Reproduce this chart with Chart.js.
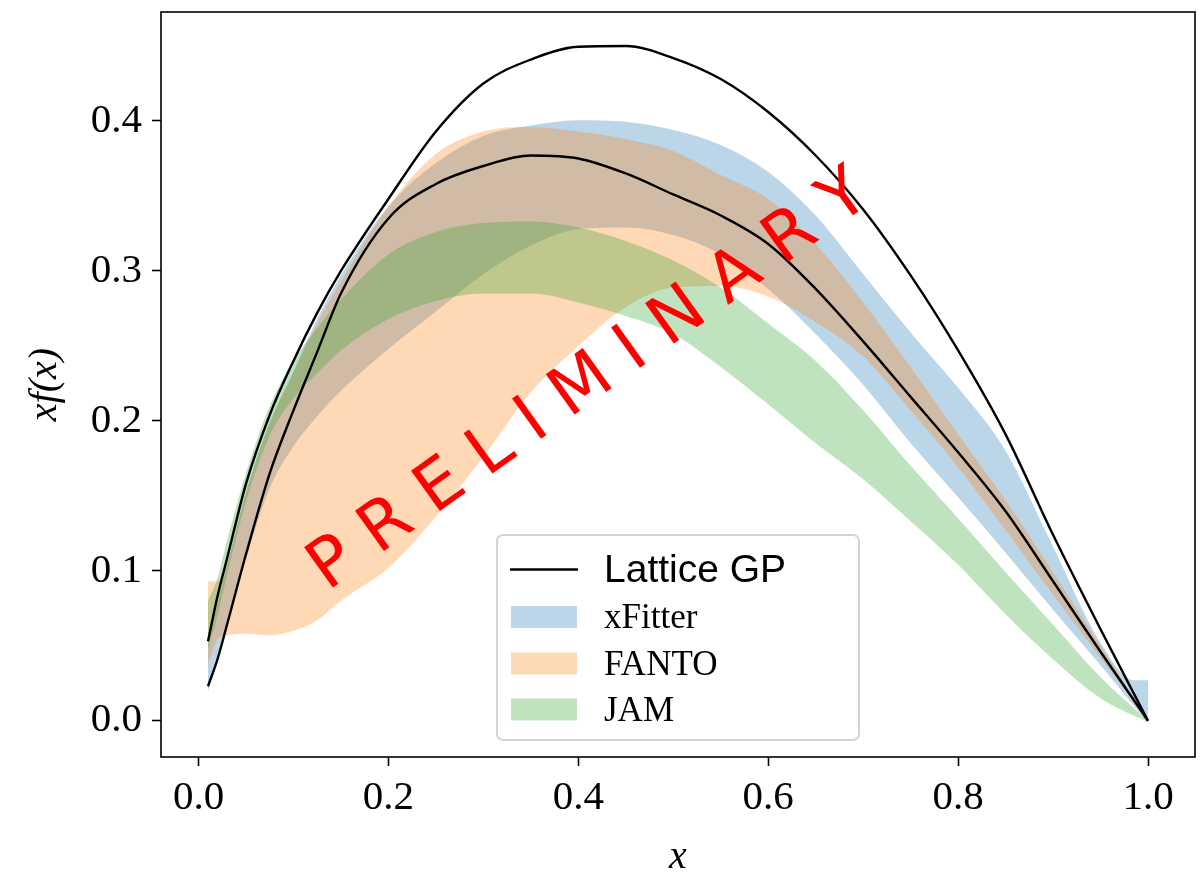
<!DOCTYPE html>
<html><head><meta charset="utf-8">
<script src="https://cdn.jsdelivr.net/npm/chart.js@4.4.0/dist/chart.umd.min.js"></script>
<style>html,body{margin:0;padding:0;background:#fff;}</style>
</head><body>
<canvas id="c" width="1204" height="879"></canvas>
<script>
// ---- data ----
const xs = [0.01, 0.02, 0.03, 0.05, 0.075, 0.1, 0.125, 0.15, 0.2, 0.25, 0.3, 0.35, 0.4, 0.45, 0.5, 0.55, 0.6, 0.65, 0.7, 0.75, 0.8, 0.85, 0.9, 0.95, 1.0];
const xsBlue = [0.01, 0.02, 0.03, 0.05, 0.075, 0.1, 0.125, 0.15, 0.2, 0.25, 0.3, 0.35, 0.4, 0.45, 0.5, 0.55, 0.6, 0.65, 0.7, 0.75, 0.8, 0.85, 0.9, 0.95, 0.985, 1.0];

const latticeUpper = [0.053, 0.083, 0.108, 0.158, 0.204, 0.240, 0.272, 0.300, 0.348, 0.393, 0.425, 0.441, 0.4495, 0.450, 0.442, 0.428, 0.406, 0.377, 0.341, 0.297, 0.247, 0.191, 0.124, 0.061, 0.0];
const latticeLower = [0.023, 0.041, 0.064, 0.111, 0.165, 0.207, 0.246, 0.285, 0.335, 0.358, 0.370, 0.377, 0.375, 0.365, 0.351, 0.337, 0.318, 0.288, 0.253, 0.216, 0.179, 0.1397, 0.093, 0.046, 0.0];

const xFitterHigh = [0.050, 0.078, 0.103, 0.152, 0.199, 0.233, 0.268, 0.297, 0.343, 0.372, 0.390, 0.397, 0.4005, 0.3995, 0.394, 0.384, 0.366, 0.337, 0.298, 0.259, 0.222, 0.180, 0.116, 0.052, 0.027, 0.027];
const xFitterLow  = [0.020, 0.040, 0.062, 0.108, 0.155, 0.183, 0.203, 0.220, 0.248, 0.273, 0.298, 0.317, 0.328, 0.329, 0.324, 0.311, 0.288, 0.258, 0.224, 0.185, 0.149, 0.112, 0.074, 0.037, 0.010, -0.001];

const fantoHigh = [0.093, 0.093, 0.105, 0.152, 0.198, 0.232, 0.265, 0.293, 0.343, 0.378, 0.393, 0.396, 0.393, 0.388, 0.380, 0.364, 0.348, 0.318, 0.279, 0.236, 0.191, 0.147, 0.099, 0.050, 0.0];
const fantoLow  = [0.038, 0.054, 0.057, 0.058, 0.057, 0.060, 0.067, 0.080, 0.102, 0.136, 0.176, 0.219, 0.250, 0.276, 0.289, 0.290, 0.283, 0.266, 0.243, 0.207, 0.169, 0.127, 0.084, 0.042, 0.0];

const jamHigh = [0.080, 0.095, 0.120, 0.165, 0.210, 0.240, 0.262, 0.281, 0.311, 0.326, 0.332, 0.333, 0.329, 0.320, 0.307, 0.289, 0.265, 0.240, 0.207, 0.170, 0.135, 0.099, 0.064, 0.029, 0.0];
const jamLow  = [0.048, 0.070, 0.097, 0.146, 0.190, 0.215, 0.232, 0.247, 0.268, 0.280, 0.285, 0.285, 0.279, 0.270, 0.258, 0.236, 0.211, 0.185, 0.161, 0.133, 0.104, 0.071, 0.041, 0.015, -0.001];

const xTicks = [0.0, 0.2, 0.4, 0.6, 0.8, 1.0];
const yTicks = [0.0, 0.1, 0.2, 0.3, 0.4];
const legendLabels = ['Lattice GP', 'xFitter', 'FANTO', 'JAM'];

// ---- styling ----
const BLUE = 'rgba(31,119,180,0.3)';
const ORANGE = 'rgba(255,127,14,0.3)';
const GREEN = 'rgba(44,160,44,0.3)';

const pts = (xv, yv) => xv.map((x, i) => ({x: x, y: yv[i]}));

function band(xv, lo, hi, color, order, idxLow) {
  return [
    {data: pts(xv, lo), borderWidth: 0, borderColor: 'rgba(0,0,0,0)', fill: false, order: order, cubicInterpolationMode: 'monotone'},
    {data: pts(xv, hi), borderWidth: 0, borderColor: 'rgba(0,0,0,0)', backgroundColor: color, fill: {target: idxLow}, order: order, cubicInterpolationMode: 'monotone'}
  ];
}

const datasets = [
  ...band(xsBlue, xFitterLow, xFitterHigh, BLUE, 3, 0),
  ...band(xs, fantoLow, fantoHigh, ORANGE, 2, 2),
  ...band(xs, jamLow, jamHigh, GREEN, 1, 4),
  {label: legendLabels[0], data: pts(xs, latticeUpper), borderColor: '#000', borderWidth: 2.4, fill: false, order: 0, cubicInterpolationMode: 'monotone'},
  {data: pts(xs, latticeLower), borderColor: '#000', borderWidth: 2.4, fill: false, order: 0, cubicInterpolationMode: 'monotone'}
];

const framePlugin = {
  id: 'frame',
  afterDatasetsDraw(chart) {
    const {ctx, chartArea: a} = chart;
    ctx.save();
    ctx.strokeStyle = '#000';
    ctx.lineWidth = 1.6;
    ctx.strokeRect(a.left, a.top, a.right - a.left, a.bottom - a.top);
    ctx.restore();
  }
};

const legendPlugin = {
  id: 'customLegend',
  afterDatasetsDraw(chart) {
    const {ctx, chartArea: a} = chart;
    const L = a.left + 336, T = a.top + 523, W = 362, H = 205;
    ctx.save();
    ctx.beginPath();
    ctx.roundRect(L, T, W, H, 6);
    ctx.fillStyle = 'rgba(255,255,255,0.8)';
    ctx.fill();
    ctx.strokeStyle = '#d4d4d4';
    ctx.lineWidth = 2;
    ctx.stroke();
    ctx.strokeStyle = '#000';
    ctx.lineWidth = 2.4;
    ctx.beginPath();
    ctx.moveTo(L + 13, T + 34.5);
    ctx.lineTo(L + 81, T + 34.5);
    ctx.stroke();
    ctx.fillStyle = '#000';
    ctx.textAlign = 'left';
    ctx.textBaseline = 'alphabetic';
    ctx.font = '39px "Liberation Sans"';
    ctx.fillText(legendLabels[0], L + 107, T + 47);
    const cols = [BLUE, ORANGE, GREEN];
    const rows = [71, 117.5, 163.5];
    const bases = [93, 140, 186];
    ctx.font = '35px "Liberation Serif"';
    for (let i = 0; i < 3; i++) {
      ctx.fillStyle = cols[i];
      ctx.fillRect(L + 14, T + rows[i], 66, 22);
      ctx.fillStyle = '#000';
      ctx.fillText(legendLabels[i + 1], L + 107, T + bases[i]);
    }
    ctx.restore();
  }
};

const watermarkPlugin = {
  id: 'watermark',
  afterDraw(chart) {
    const {ctx} = chart;
    const cx = chart.scales.x.getPixelForValue(0.4076);
    const cy = chart.scales.y.getPixelForValue(0.2298);
    ctx.save();
    ctx.translate(cx, cy);
    ctx.rotate(-35.6 * Math.PI / 180);
    ctx.font = '68px "DejaVu Sans"';
    ctx.fillStyle = '#ff0000';
    ctx.textAlign = 'center';
    ctx.textBaseline = 'alphabetic';
    ctx.fillText('P R E L I M I N A R Y', 0, 25);
    ctx.restore();
  }
};

const tickFont = {family: '"Liberation Serif"', size: 41};

new Chart(document.getElementById('c'), {
  type: 'line',
  data: {datasets: datasets},
  options: {
    responsive: false,
    animation: false,
    devicePixelRatio: 1,
    layout: {padding: {top: 12, right: 9, left: 0, bottom: 0}},
    elements: {point: {radius: 0, hoverRadius: 0}, line: {tension: 0}},
    plugins: {legend: {display: false}, tooltip: {enabled: false}},
    scales: {
      x: {
        type: 'linear', min: -0.0395, max: 1.0495,
        afterBuildTicks: s => { s.ticks = xTicks.map(v => ({value: v})); },
        afterFit: s => { s.height = 122; s.paddingLeft = 0; s.paddingRight = 0; },
        ticks: {font: tickFont, color: '#000', padding: 8, maxRotation: 0, autoSkip: false, callback: v => Number(v).toFixed(1)},
        grid: {drawOnChartArea: false, drawTicks: true, tickLength: 9, tickWidth: 1.6, tickColor: '#000'},
        border: {display: false},
        title: {display: true, text: 'x', color: '#000', font: {family: '"Liberation Serif"', style: 'italic', size: 40, lineHeight: 1}, padding: {top: 0, bottom: 2}}
      },
      y: {
        type: 'linear', min: -0.0242, max: 0.4727,
        afterBuildTicks: s => { s.ticks = yTicks.map(v => ({value: v})); },
        afterFit: s => { s.width = 161; s.paddingTop = 0; s.paddingBottom = 0; },
        ticks: {font: tickFont, color: '#000', padding: 10, autoSkip: false, callback: v => Number(v).toFixed(1)},
        grid: {drawOnChartArea: false, drawTicks: true, tickLength: 9, tickWidth: 1.6, tickColor: '#000'},
        border: {display: false},
        title: {display: true, text: 'xf(x)', color: '#000', font: {family: '"Liberation Serif"', style: 'italic', size: 40, lineHeight: 1}, padding: {top: 25, bottom: 0}}
      }
    }
  },
  plugins: [framePlugin, legendPlugin, watermarkPlugin]
});
</script>
</body></html>
